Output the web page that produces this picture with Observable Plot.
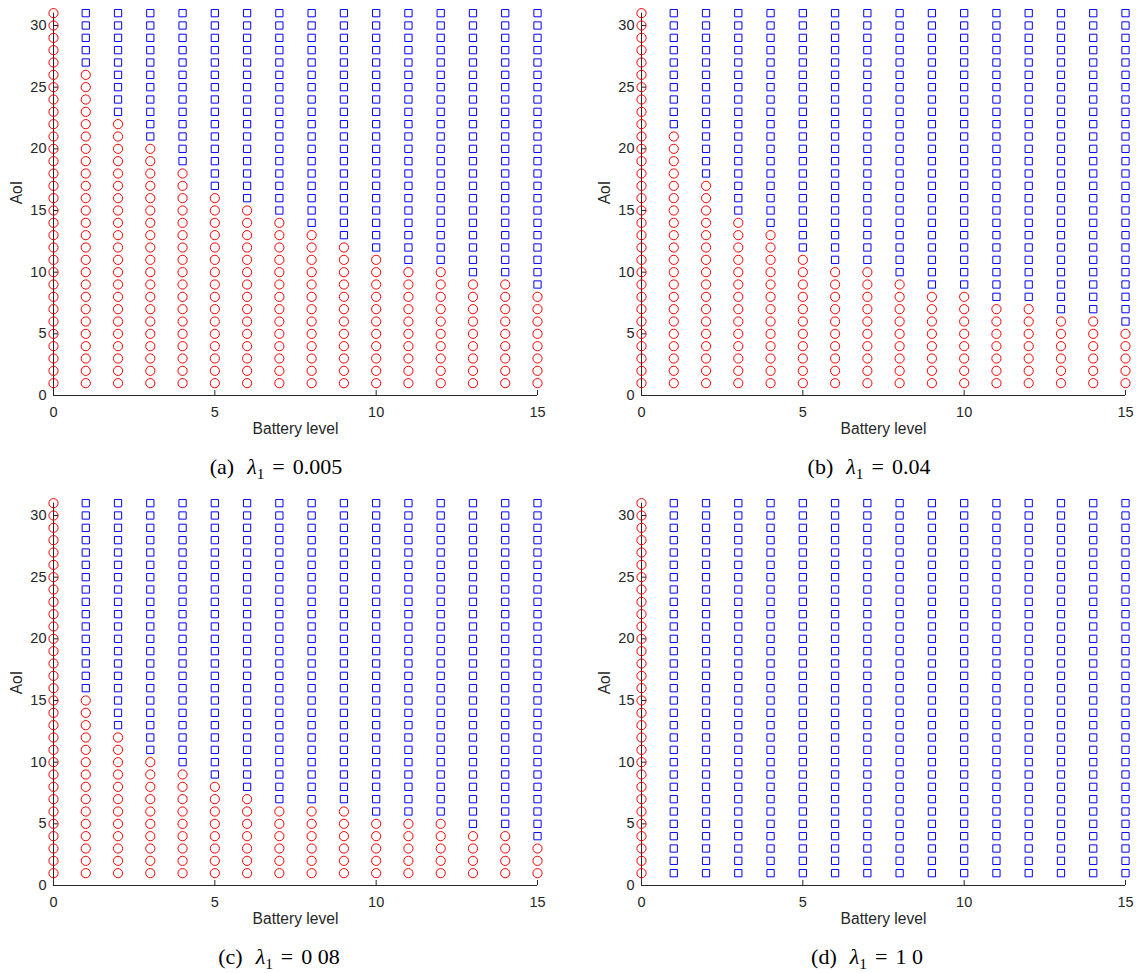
<!DOCTYPE html>
<html>
<head>
<meta charset="utf-8">
<script src="https://cdn.jsdelivr.net/npm/d3@7"></script>
<script src="https://cdn.jsdelivr.net/npm/@observablehq/plot@0.6"></script>
<style>
  html, body { margin: 0; padding: 0; background: #fff; }
  body { width: 1136px; height: 973px; overflow: hidden; position: relative; font-family: "Liberation Sans", Arial, sans-serif; }
  .panel { position: absolute; }
  .cap { position: absolute; transform: translateX(-50%); font-family: "Liberation Serif", "Times New Roman", serif; font-size: 22px; line-height: 22px; color: #000; white-space: nowrap; }
  .cap i { font-style: italic; }
  .cap sub { font-size: 0.7em; vertical-align: -0.3em; line-height: 0; }
</style>
</head>
<body>
<script>
// ---- data ----
const batteryLevels = [0, 1, 2, 3, 4, 5, 6, 7, 8, 9, 10, 11, 12, 13, 14, 15];
const aoiValues = [1, 2, 3, 4, 5, 6, 7, 8, 9, 10, 11, 12, 13, 14, 15, 16, 17, 18, 19, 20, 21, 22, 23, 24, 25, 26, 27, 28, 29, 30, 31];
const xTicks = [0, 5, 10, 15];
const yTicks = [0, 5, 10, 15, 20, 25, 30];
const xDomain = [0, 15];
const yDomain = [0, 31];
// highest AoI (per battery level) drawn as a red circle; above it a blue square
const thresholdsA = [31, 26, 22, 20, 18, 16, 15, 14, 13, 12, 11, 10, 10, 9, 9, 8];
const thresholdsB = [31, 21, 17, 14, 13, 11, 10, 10, 9, 8, 8, 7, 7, 6, 6, 5];
const thresholdsC = [31, 15, 12, 10, 9, 8, 7, 6, 6, 6, 5, 5, 5, 4, 4, 3];
const thresholdsD = [31, 0, 0, 0, 0, 0, 0, 0, 0, 0, 0, 0, 0, 0, 0, 0];
const panelLetters = ["a", "b", "c", "d"];
const lambdaLabels = ["0.005", "0.04", "0&nbsp;08", "1&nbsp;0"];
const xLabel = "Battery level";
const yLabel = "AoI";

// ---- layout ----
const W = 548, H = 445, mL = 53, mR = 11, mT = 12.67, mB = 50;
const axisColor = "#262626";
const positions = [[0, 0], [588, 0], [0, 490], [588, 490]];
const capCenters = [[276, 456], [869, 456], [279, 946], [867, 946]];

function makePanel(th) {
  const cells = batteryLevels.flatMap((b, i) => aoiValues.map(a => ({b, a, idle: a <= th[i]})));
  const pxX = (W - mL - mR) / (xDomain[1] - xDomain[0]);
  const pxY = (H - mT - mB) / (yDomain[1] - yDomain[0]);
  const tickLen = 5;
  return Plot.plot({
    width: W, height: H,
    marginLeft: mL, marginRight: mR, marginTop: mT, marginBottom: mB,
    x: {domain: xDomain},
    y: {domain: yDomain},
    style: {fontFamily: "'Liberation Sans', Arial, sans-serif", fontSize: "14.5px", color: axisColor, background: "white", overflow: "visible"},
    marks: [
      Plot.axisX({ticks: xTicks, tickSize: 0, tickPadding: 11.5, label: null, fontSize: 14.5, fill: axisColor}),
      Plot.axisY({ticks: yTicks, tickSize: 0, tickPadding: 7, label: null, fontSize: 14.5, fill: axisColor}),
      Plot.ruleY([yDomain[0]], {y: d => d, x1: xDomain[0], x2: xDomain[1], stroke: axisColor, strokeWidth: 1}),
      Plot.ruleX([xDomain[0]], {x: d => d, y1: yDomain[0], y2: yDomain[1], stroke: axisColor, strokeWidth: 1}),
      Plot.ruleX(xTicks, {x: d => d, y1: yDomain[0], y2: yDomain[0] + tickLen / pxY, stroke: axisColor, strokeWidth: 1}),
      Plot.ruleY(yTicks, {y: d => d, x1: xDomain[0], x2: xDomain[0] + tickLen / pxX, stroke: axisColor, strokeWidth: 1}),
      Plot.dot(cells.filter(d => d.idle), {x: "b", y: "a", symbol: "circle", r: 4.6, stroke: "#ff0000", fill: "none", strokeWidth: 1}),
      Plot.dot(cells.filter(d => !d.idle), {x: "b", y: "a", symbol: "square", r: 4.1, stroke: "#0000ff", fill: "none", strokeWidth: 1}),
      Plot.text([xLabel], {text: d => d, frameAnchor: "bottom", dy: 38, fontSize: 15.6, fill: axisColor}),
      Plot.text([yLabel], {text: d => d, frameAnchor: "left", dx: -36.5, rotate: -90, fontSize: 15.6, fill: axisColor})
    ]
  });
}

const allThresholds = [thresholdsA, thresholdsB, thresholdsC, thresholdsD];
allThresholds.forEach((th, k) => {
  const div = document.createElement("div");
  div.className = "panel";
  div.style.left = positions[k][0] + "px";
  div.style.top = positions[k][1] + "px";
  div.appendChild(makePanel(th));
  document.body.appendChild(div);

  const cap = document.createElement("div");
  cap.className = "cap";
  cap.style.left = capCenters[k][0] + "px";
  cap.style.top = capCenters[k][1] + "px";
  cap.innerHTML = `(${panelLetters[k]})<span style="margin-left:13px"><i>λ</i><sub>1</sub></span><span style="margin:0 8px">=</span>${lambdaLabels[k]}`;
  document.body.appendChild(cap);
});
</script>
</body>
</html>
